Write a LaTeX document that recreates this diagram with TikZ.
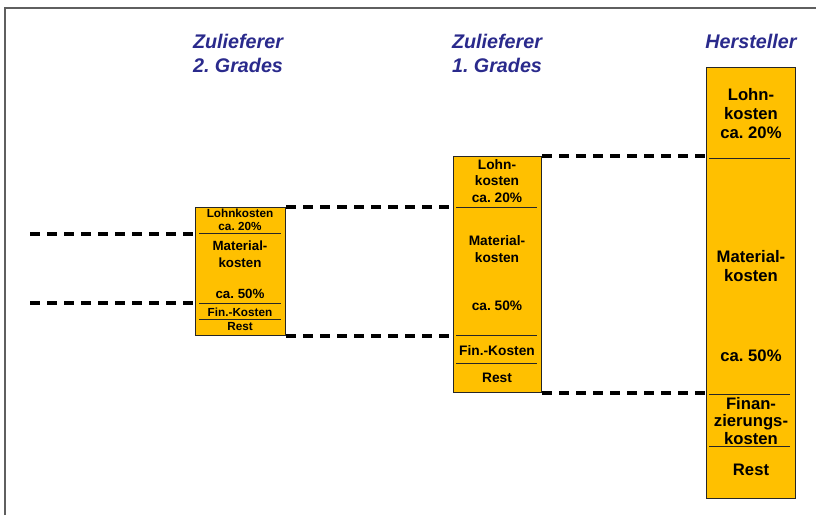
\documentclass[tikz,border=0pt]{standalone}
\usepackage{fontspec}
\setmainfont{Liberation Sans}
\frenchspacing
\definecolor{boxfill}{RGB}{255,192,0}
\definecolor{hdrblue}{RGB}{42,42,140}
\definecolor{framegray}{RGB}{95,95,95}
\begin{document}
\begin{tikzpicture}[x=0.75pt,y=-0.75pt,
  box/.style={draw=black!85, fill=boxfill, line width=0.8pt, anchor=north west, inner sep=0pt},
  divline/.style={line width=0.7pt, draw=black!85},
  dashline/.style={line width=2.4pt, dash pattern=on 7.5pt off 5.25pt},
  hdr/.style={font=\fontsize{14.8}{18}\selectfont\bfseries\itshape, text=hdrblue, align=center},
  tsmall/.style={font=\fontsize{8.8}{9.75}\selectfont\bfseries, align=center, inner sep=0pt},
  tmid/.style={font=\fontsize{10}{12.5}\selectfont\bfseries, align=center, inner sep=0pt},
  tmidb/.style={font=\fontsize{10.3}{12.4}\selectfont\bfseries, align=center, inner sep=0pt},
  tbig/.style={font=\fontsize{12.5}{14.25}\selectfont\bfseries, align=center, inner sep=0pt},
]
\useasboundingbox (0,0) rectangle (816,515);
% frame
\draw[framegray, line width=1.1pt] (5,515) -- (5,8) -- (816,8);

% headers
\node[hdr] (h1) at (238,53) {Zulieferer\\2. Grades};
\node[hdr] (h2) at (497,53) {Zulieferer\\1. Grades};
\node[hdr] (h3) at (751,41) {Hersteller};

% boxes
\node[box, minimum width=67.5pt, minimum height=96pt] (b1) at (195,207) {};
\node[box, minimum width=66pt, minimum height=177pt] (b2) at (453,156) {};
\node[box, minimum width=66.75pt, minimum height=323.25pt] (b3) at (706,67) {};

% dividers box 1
\draw[divline] (199,233) -- (281,233);
\draw[divline] (199,303) -- (281,303);
\draw[divline] (199,319) -- (281,319);
% dividers box 2
\draw[divline] (456,207) -- (537,207);
\draw[divline] (456,335) -- (537,335);
\draw[divline] (456,363) -- (537,363);
% dividers box 3
\draw[divline] (709,158) -- (790,158);
\draw[divline] (709,394) -- (790,394);
\draw[divline] (709,446) -- (790,446);

% texts box 1
\node[tsmall] (t1a) at (240,220) {Lohnkosten\\ca. 20\%};
\node[tmid]   (t1b) at (240,254) {Material-\\kosten};
\node[tmid]   (t1c) at (240,294) {ca. 50\%};
\node[tsmall] (t1d) at (240,312) {Fin.-Kosten};
\node[tsmall] (t1e) at (240,327) {Rest};

% texts box 2
\node[tmidb] (t2a) at (497,181) {Lohn-\\kosten\\ca. 20\%};
\node[tmidb] (t2b) at (497,249) {Material-\\kosten};
\node[tmidb] (t2c) at (497,306) {ca. 50\%};
\node[tmidb] (t2d) at (497,351) {Fin.-Kosten};
\node[tmidb] (t2e) at (497,378) {Rest};

% texts box 3
\node[tbig] (t3a) at (751,114) {Lohn-\\kosten\\ca. 20\%};
\node[tbig] (t3b) at (751,266.5) {Material-\\kosten};
\node[tbig] (t3c) at (751,356) {ca. 50\%};
\node[tbig, font=\fontsize{12.5}{13.3}\selectfont\bfseries] (t3d) at (751,421) {Finan-\\zierungs-\\kosten};
\node[tbig] (t3e) at (751,470) {Rest};

% connectors
\coordinate (l1) at (30,234);
\coordinate (l2) at (30,303);
\draw[dashline] (l1) -- (b1.west |- l1);
\draw[dashline] (l2) -- (b1.west |- l2);
\draw[dashline] (b1.north east) -- (b2.west |- b1.north east);
\draw[dashline] (b1.south east) -- (b2.west |- b1.south east);
\draw[dashline] (b2.north east) -- (b3.west |- b2.north east);
\draw[dashline] (b2.south east) -- (b3.west |- b2.south east);
\end{tikzpicture}
\end{document}
